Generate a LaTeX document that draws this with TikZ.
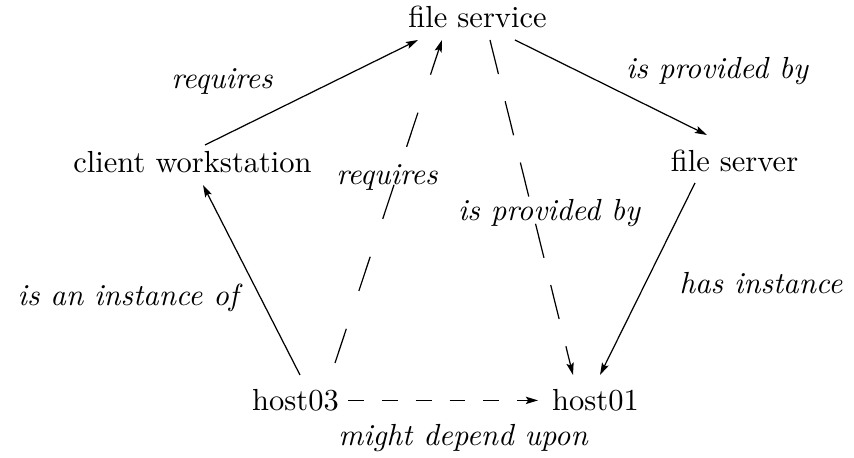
\documentclass[tikz,border=0pt]{standalone}
\usetikzlibrary{arrows.meta,calc}
\begin{document}
\begin{tikzpicture}[x=0.328pt,y=-0.328pt,
  every node/.style={inner sep=0pt},
  lbl/.style={font=\itshape},
  edge/.style={line width=0.4pt,-{Stealth[length=4pt,width=2.4pt,inset=0.8pt]}},
  dl/.style={edge,dash pattern=on 11.8pt off 13.1pt},
  dr/.style={edge,dash pattern=on 11.5pt off 9.2pt},
  db/.style={edge,dash pattern=on 5.2pt off 5.9pt}]
\useasboundingbox (0,0) rectangle (854,458);
\node (fs)  at (477.5,17.4)  {file service};
\node (cw)  at (192.5,162.4) {client workstation};
\node (fsv) at (734.5,161.4) {file server};
\node (h03) at (295.5,400.4) {host03};
\node (h01) at (595.5,400.4) {host01};

\draw[edge] ($(cw)+(12.5,-17.4)$) -- ($(fs)+(-59.5,22.6)$);
\draw[edge] ($(h03)+(4.5,-25.4)$) -- ($(cw)+(10.5,22.6)$);
\draw[dl] ($(h03)+(39.5,-37.4)$) -- ($(fs)+(-35.5,22.6)$);
\draw[dr] ($(fs)+(12.5,22.6)$) -- ($(h01)+(-22.5,-25.4)$);
\draw[edge] ($(fs)+(37.5,22.6)$) -- ($(fsv)+(-27.5,-26.4)$);
\draw[edge] ($(fsv)+(-39.5,21.6)$) -- ($(h01)+(4.5,-25.4)$);
\draw[db] ($(h03)+(52.5,0)$) -- ($(h01)+(-57.5,0)$);

\node[lbl] (l1) at (222,81)  {requires};
\node[lbl] (l2) at (717,71)  {is provided by};
\node[lbl] (l3) at (387,177) {requires};
\node[lbl] (l4) at (549,213) {is provided by};
\node[lbl] (l5) at (128,298) {is an instance of};
\node[lbl] (l6) at (761,283) {has instance};
\node[lbl] (l7) at (463,438) {might depend upon};
\end{tikzpicture}
\end{document}
